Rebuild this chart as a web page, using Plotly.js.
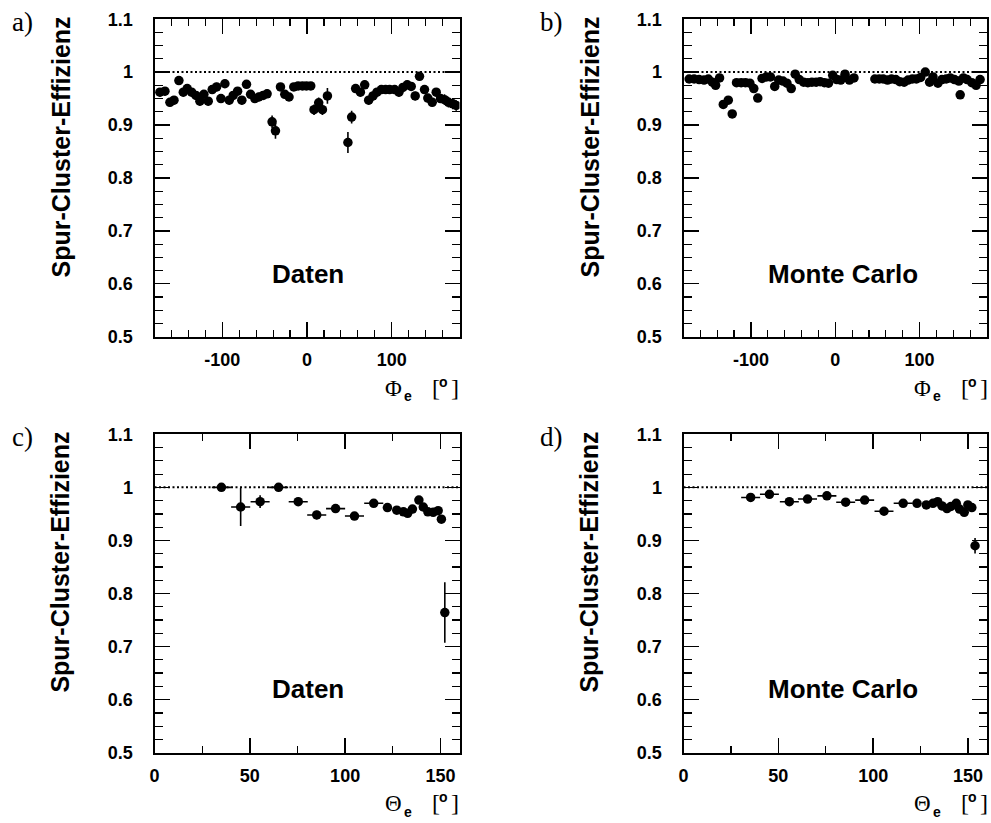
<!DOCTYPE html>
<html>
<head>
<meta charset="utf-8">
<script src="https://cdn.plot.ly/plotly-3.0.1.min.js"></script>
<style>html,body{margin:0;padding:0;background:#fff;}#chart{width:991px;height:823px;}</style>
</head>
<body>
<div id="chart"></div>
<script>
// ---- Data ----
// a) Daten, vs Phi_e
const phiA = [-173.6,-167.7,-161.8,-157,-151.2,-146,-141.4,-136.2,-131.1,-126.4,-121.7,-116.6,-111.9,-106.7,-101.6,-96.9,-91.8,-87.1,-81.9,-76.9,-71.4,-66.6,-61.6,-56.9,-51.8,-47.1,-41.2,-37.2,-31.3,-26.2,-21.2,-15.6,-10.5,-5.4,-0.7,4.4,8.3,13.8,18.2,24.1,48.3,52.7,57.4,63,68.1,72.8,77.9,82.6,87.8,92.8,97.5,103.4,108.5,113.2,118.3,123,127.7,132.8,138.7,142.6,147.8,152.5,157.6,162.3,167,172.1,176.1];
const effA = [0.962,0.964,0.943,0.947,0.984,0.962,0.969,0.962,0.956,0.945,0.958,0.945,0.967,0.972,0.950,0.978,0.947,0.956,0.964,0.947,0.977,0.958,0.950,0.953,0.956,0.959,0.906,0.889,0.972,0.958,0.953,0.972,0.974,0.974,0.974,0.974,0.929,0.942,0.929,0.955,0.867,0.915,0.969,0.962,0.976,0.947,0.955,0.962,0.967,0.967,0.967,0.967,0.962,0.971,0.976,0.973,0.955,0.992,0.967,0.951,0.943,0.962,0.950,0.948,0.943,0.940,0.937];
const errA = [0.008,0.008,0.008,0.008,0.008,0.008,0.008,0.008,0.008,0.008,0.008,0.008,0.008,0.008,0.008,0.008,0.008,0.008,0.008,0.008,0.008,0.008,0.008,0.008,0.008,0.008,0.012,0.015,0.007,0.007,0.007,0.007,0.007,0.007,0.007,0.007,0.010,0.010,0.010,0.015,0.020,0.012,0.008,0.008,0.008,0.008,0.008,0.008,0.008,0.008,0.008,0.008,0.008,0.008,0.008,0.008,0.008,0.008,0.008,0.008,0.008,0.008,0.008,0.010,0.010,0.010,0.010];

// b) Monte Carlo, vs Phi_e
const phiB = [-173.3,-167.4,-161.5,-155.6,-150.5,-145.8,-141.9,-137.2,-132.8,-126.9,-122.2,-117.1,-111.6,-106.5,-101.3,-96.6,-91.9,-86.8,-81.7,-76.9,-71.8,-67.1,-62,-57.3,-52.2,-47.5,-42.7,-37.5,-32.5,-27.7,-22.7,-17.9,-12.8,-8,-3,1.8,6.5,11.6,16.8,22.2,47,52.2,56.9,62,66.7,71.8,76.5,81.7,86.4,91.5,96.2,101.3,106.8,111.9,115.9,121.8,126.6,131.6,136.4,141.4,146.6,148.2,152,156.4,162,167.1,171.8];
const effB = [0.987,0.987,0.986,0.985,0.987,0.981,0.975,0.989,0.939,0.947,0.921,0.980,0.980,0.980,0.979,0.969,0.951,0.988,0.991,0.991,0.973,0.985,0.983,0.979,0.969,0.996,0.986,0.981,0.980,0.981,0.981,0.982,0.980,0.979,0.994,0.986,0.985,0.996,0.985,0.989,0.987,0.987,0.987,0.985,0.987,0.986,0.982,0.981,0.985,0.987,0.987,0.990,1.000,0.981,0.991,0.979,0.986,0.987,0.989,0.986,0.983,0.957,0.989,0.986,0.980,0.975,0.986];
const errB = [0.004,0.004,0.004,0.004,0.004,0.004,0.004,0.004,0.006,0.006,0.006,0.004,0.004,0.004,0.004,0.004,0.005,0.004,0.004,0.004,0.004,0.004,0.004,0.004,0.004,0.004,0.004,0.004,0.004,0.004,0.004,0.004,0.004,0.004,0.004,0.004,0.004,0.004,0.004,0.004,0.004,0.004,0.004,0.004,0.004,0.004,0.004,0.004,0.004,0.004,0.004,0.004,0.004,0.004,0.004,0.004,0.004,0.004,0.004,0.004,0.004,0.006,0.004,0.004,0.004,0.004,0.004];

// c) Daten, vs Theta_e
const thC = [35.1,45.2,55.4,65.1,75.4,85.1,95,104.9,115,122.2,127.1,130.6,132.8,135.3,138.7,141,143.4,146.2,148.8,150.5,152.3];
const effC = [1.0,0.963,0.973,1.0,0.973,0.948,0.960,0.946,0.970,0.962,0.957,0.954,0.951,0.959,0.976,0.963,0.954,0.953,0.956,0.940,0.764];
const errC = [0.003,0.036,0.012,0.003,0.008,0.008,0.005,0.004,0.004,0.004,0.004,0.004,0.004,0.004,0.005,0.005,0.005,0.005,0.005,0.006,0.057];
const binC = [5,5,5,5,5,5,5,5,5,1.25,1.25,1.25,1.25,1.25,1.25,1.25,1.25,1.25,1.25,1.25,1];

// d) Monte Carlo, vs Theta_e
const thD = [35.4,45.3,55.8,65.4,75.6,85.5,95.5,105.7,115.8,123.1,128,131.5,134,136.3,138.9,141,143.8,145.5,148,149.9,152,153.7];
const effD = [0.981,0.987,0.973,0.978,0.984,0.972,0.976,0.955,0.970,0.970,0.967,0.970,0.973,0.965,0.960,0.964,0.970,0.959,0.953,0.967,0.962,0.890];
const errD = [0.008,0.003,0.003,0.003,0.003,0.003,0.003,0.003,0.003,0.003,0.003,0.003,0.003,0.003,0.003,0.003,0.003,0.003,0.003,0.003,0.003,0.0145];
const binD = [5,5,5,5,5,5,5,5,5,1.25,1.25,1.25,1.25,1.25,1.25,1.25,1.25,1.25,1.25,1.25,1.25,1];

// tick labels
const phiTickVals = [-100, 0, 100];
const phiTickText = ["-100", "0", "100"];
const thTickVals = [0, 50, 100, 150];
const thTickText = ["0", "50", "100", "150"];
const effTickVals = [0.5, 0.6, 0.7, 0.8, 0.9, 1.0, 1.1];
const effTickText = ["0.5", "0.6", "0.7", "0.8", "0.9", "1", "1.1"];

const yTitle = "Spur-Cluster-Effizienz";
const panelTags = ["a)", "b)", "c)", "d)"];
const panelNames = ["Daten", "Monte Carlo", "Daten", "Monte Carlo"];

// ---- Layout helpers ----
const W = 991, H = 823;
const px = x => x / W;
const py = y => 1 - y / H;
const SANS = "Liberation Sans, Arial, sans-serif";
const SERIF = "Liberation Serif, Times New Roman, serif";

function trace(x, y, ey, xa, ya, ex) {
  const t = {
    type: 'scatter', mode: 'markers', x: x, y: y, xaxis: xa, yaxis: ya,
    marker: {color: 'black', size: 9.5},
    error_y: {type: 'data', array: ey, visible: true, color: 'black', thickness: 1.6, width: 0},
    showlegend: false, cliponaxis: true
  };
  if (ex) t.error_x = {type: 'data', array: ex, visible: true, color: 'black', thickness: 1.6, width: 0};
  return t;
}

const data = [
  trace(phiA, effA, errA, 'x', 'y'),
  trace(phiB, effB, errB, 'x2', 'y2'),
  trace(thC, effC, errC, 'x3', 'y3', binC),
  trace(thD, effD, errD, 'x4', 'y4', binD)
];

const colL = [154.5, 459.5], colR = [683.5, 987];
const rowT = [19.2, 336.7], rowB = [434.3, 752.7];

function xax(dom, isPhi, anchor) {
  return {
    domain: [px(dom[0]), px(dom[1])], anchor: anchor,
    range: isPhi ? [-180, 180] : [0, 160],
    tickmode: 'array',
    tickvals: isPhi ? phiTickVals : thTickVals,
    ticktext: isPhi ? phiTickText : thTickText,
    ticks: 'inside', ticklen: 15, tickwidth: 1.4, tickcolor: 'black',
    minor: {ticks: 'inside', ticklen: 7, tickwidth: 1.2, tickcolor: 'black', dtick: isPhi ? 20 : 25, tick0: 0, showgrid: false},
    showline: true, linewidth: 2, linecolor: 'black', mirror: 'allticks',
    showgrid: false, zeroline: false,
    tickfont: {family: SANS, size: 18, color: 'black', weight: 'bold'},
    ticklabelstandoff: 6, fixedrange: true
  };
}
function yax(dom, anchor) {
  return {
    domain: [py(dom[1]), py(dom[0])], anchor: anchor,
    range: [0.5, 1.1],
    tickmode: 'array', tickvals: effTickVals, ticktext: effTickText,
    ticks: 'inside', ticklen: 15, tickwidth: 1.4, tickcolor: 'black',
    minor: {ticks: 'inside', ticklen: 8, tickwidth: 1.2, tickcolor: 'black', dtick: 0.025, tick0: 0, showgrid: false},
    showline: true, linewidth: 2, linecolor: 'black', mirror: 'allticks',
    showgrid: false, zeroline: false,
    tickfont: {family: SANS, size: 18, color: 'black', weight: 'bold'},
    ticklabelstandoff: 16, fixedrange: true
  };
}

const panels = [
  {xa: 'x', ya: 'y', col: colL, row: rowT, phi: true},
  {xa: 'x2', ya: 'y2', col: colR, row: rowT, phi: true},
  {xa: 'x3', ya: 'y3', col: colL, row: rowB, phi: false},
  {xa: 'x4', ya: 'y4', col: colR, row: rowB, phi: false}
];

const shapes = [];
const annotations = [];
panels.forEach((p, i) => {
  shapes.push({type: 'line', xref: p.xa + ' domain', yref: p.ya, x0: 0, x1: 1, y0: 1, y1: 1,
    line: {color: 'black', width: 2, dash: '2px,2.5px'}});
  const dx = p.col[0] - colL[0];
  const dy = p.row[0] - rowT[0];
  // panel tag
  annotations.push({xref: 'paper', yref: 'paper', x: px(22 + dx), y: py(22 + dy), xanchor: 'center', yanchor: 'middle',
    text: panelTags[i], showarrow: false, font: {family: SERIF, size: 27, color: 'black'}});
  // y title
  annotations.push({xref: 'paper', yref: 'paper', x: px(60 + dx), y: py(147.5 + dy), xanchor: 'center', yanchor: 'middle',
    textangle: -90, text: yTitle, showarrow: false, font: {family: SANS, size: 25, color: 'black', weight: 'bold'}});
  // panel name
  annotations.push({xref: 'paper', yref: 'paper', x: px((i % 2 ? 843 - 529 : 307.5) + dx), y: py(274 + dy), xanchor: 'center', yanchor: 'middle',
    text: panelNames[i], showarrow: false, font: {family: SANS, size: 26, color: 'black', weight: 'bold'}});
  // x title pieces
  const sym = p.phi ? 'Φ' : 'Θ';
  annotations.push({xref: 'paper', yref: 'paper', x: px(393 + dx), y: py(388 + dy), xanchor: 'center', yanchor: 'middle',
    text: sym, showarrow: false, font: {family: SERIF, size: 23, color: 'black'}});
  annotations.push({xref: 'paper', yref: 'paper', x: px(408 + dx), y: py(396.5 + dy), xanchor: 'center', yanchor: 'middle',
    text: 'e', showarrow: false, font: {family: SANS, size: 14, color: 'black', weight: 'bold'}});
  annotations.push({xref: 'paper', yref: 'paper', x: px(436 + dx), y: py(388 + dy), xanchor: 'center', yanchor: 'middle',
    text: '[', showarrow: false, font: {family: SERIF, size: 24, color: 'black'}});
  annotations.push({xref: 'paper', yref: 'paper', x: px(443 + dx), y: py(382 + dy), xanchor: 'center', yanchor: 'middle',
    text: 'o', showarrow: false, font: {family: SANS, size: 14, color: 'black', weight: 'bold'}});
  annotations.push({xref: 'paper', yref: 'paper', x: px(455 + dx), y: py(388 + dy), xanchor: 'center', yanchor: 'middle',
    text: ']', showarrow: false, font: {family: SERIF, size: 24, color: 'black'}});
});

const layout = {
  width: W, height: H,
  margin: {l: 0, r: 0, t: 0, b: 0},
  paper_bgcolor: 'white', plot_bgcolor: 'white',
  showlegend: false,
  xaxis: xax(colL, true, 'y'),
  yaxis: yax(rowT, 'x'),
  xaxis2: xax(colR, true, 'y2'),
  yaxis2: yax(rowT, 'x2'),
  xaxis3: xax(colL, false, 'y3'),
  yaxis3: yax(rowB, 'x3'),
  xaxis4: xax(colR, false, 'y4'),
  yaxis4: yax(rowB, 'x4'),
  shapes: shapes,
  annotations: annotations
};

Plotly.newPlot('chart', data, layout, {staticPlot: true, displayModeBar: false});
</script>
</body>
</html>
